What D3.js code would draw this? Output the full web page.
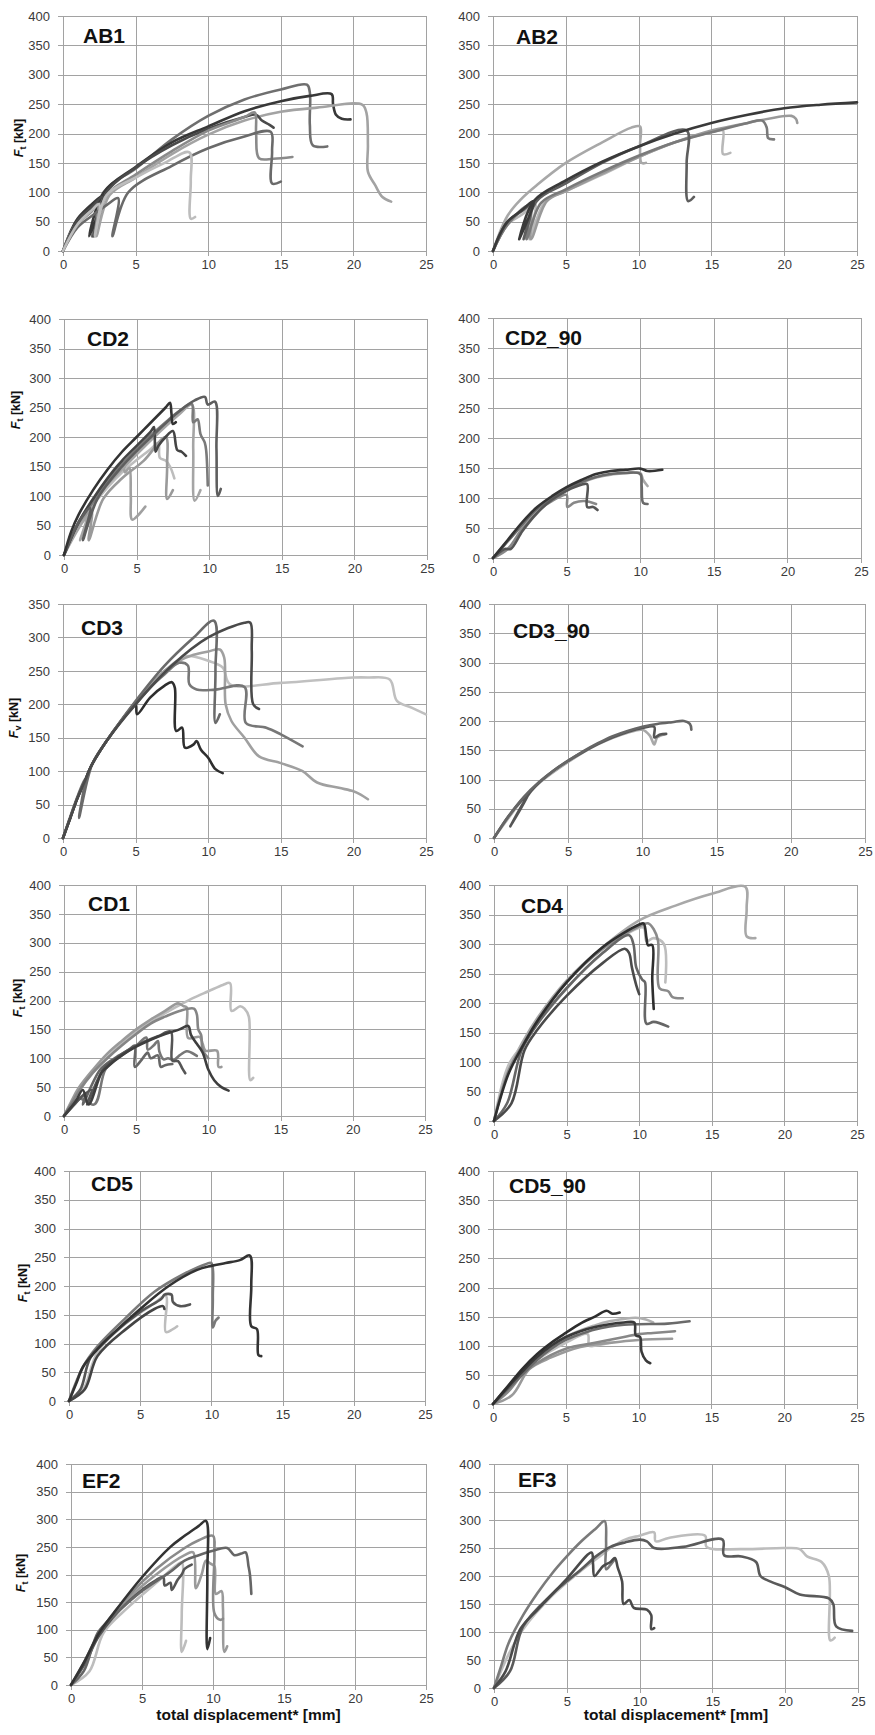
<!DOCTYPE html>
<html>
<head>
<meta charset="utf-8">
<script src="https://cdn.jsdelivr.net/npm/d3@7"></script>
<style>
body { margin: 0; background: #fff; }
svg text { font-family: "Liberation Sans", Arial, sans-serif; }
</style>
</head>
<body>
<div id="chart"></div>
<script>
// Panel names and ticks
const panelNames = ["AB1", "AB2", "CD2", "CD2_90", "CD3", "CD3_90", "CD1", "CD4", "CD5", "CD5_90", "EF2", "EF3"];
const xTicks = [0, 5, 10, 15, 20, 25];
const yTicks = [0, 50, 100, 150, 200, 250, 300, 350, 400];
const yTicksCD3 = [0, 50, 100, 150, 200, 250, 300, 350];
const ySub = { AB1: "t", CD2: "t", CD3: "v", CD1: "t", CD5: "t", EF2: "t" };
const xLabel = "total displacement* [mm]";

// Load-displacement curves, [displacement mm, force kN]
const ab1 = [
  [[0,0],[0.5,30],[1,50],[2,75],[2.8,95],[2.0,25],[3.0,105],[5,140],[7.5,190],[10,230],[12.5,258],[15,275],[16.8,283],[17.0,270],[17.0,215],[17.2,180],[18.2,178]],
  [[0,0],[0.5,32],[1,55],[2,80],[2.8,95],[1.8,25],[2.8,100],[5,143],[7.5,185],[10,212],[12.5,238],[15,255],[17,264],[18.5,267],[18.6,250],[18.8,232],[19.2,225],[19.8,224]],
  [[0,0],[0.5,30],[1,50],[2,72],[2.5,80],[2.3,25],[3.2,95],[5,125],[7.5,165],[10,198],[12.5,222],[15,237],[17.5,244],[20.6,249],[20.9,235],[21,180],[21,135],[21.5,112],[22,92],[22.6,84]],
  [[0,0],[1,52],[2,75],[2.7,92],[2.1,25],[3,100],[5,142],[7.5,180],[10,208],[12.5,228],[13.3,232],[13.7,222],[14.2,215],[14.5,210]],
  [[0,0],[1,45],[2,68],[2.4,80],[2.2,25],[3,95],[5,130],[7.5,170],[10,205],[12.5,228],[13.2,236],[13.3,200],[13.5,158],[14.5,157],[15.8,160]],
  [[0,0],[1,40],[2,60],[3,78],[3.8,90],[3.4,25],[4.5,100],[7.5,145],[10,175],[12.5,195],[14.3,203],[14.4,170],[14.4,115],[15,118]],
  [[0,0],[1,45],[2,70],[2.5,80],[2.2,25],[3,95],[5,125],[7,150],[8.7,168],[8.8,120],[8.8,55],[9.1,58]]
];
const ab2 = [
  [[0,0],[1,60],[2,90],[3,112],[5,150],[7.5,185],[9.5,210],[10.1,212],[10.1,180],[10.2,150],[10.5,150]],
  [[0,0],[1,45],[2,62],[2.9,80],[2.5,20],[3.6,85],[5,102],[7.5,130],[10,160],[12.5,185],[15.5,205],[15.8,205],[15.8,165],[16.3,167]],
  [[0,0],[1,45],[2.5,75],[2.6,20],[3.7,85],[5,102],[7.5,132],[10,160],[12.5,185],[15,205],[17.5,218],[20.5,230],[20.8,225],[20.9,218]],
  [[0,0],[1,45],[2.5,78],[2.3,20],[3.3,82],[5,105],[7.5,135],[10,162],[12.5,185],[15,202],[17.5,218],[18.5,222],[18.8,210],[18.9,192],[19.3,190]],
  [[0,0],[1,50],[2,68],[2.7,80],[2.1,20],[3,85],[5,115],[7.5,150],[10,178],[13.3,205],[13.3,150],[13.4,85],[13.8,92]],
  [[0,0],[0.5,30],[1,50],[2,70],[2.8,85],[1.8,20],[2.8,85],[5,120],[7.5,152],[10,178],[12.5,200],[15,218],[17.5,232],[20,243],[22.5,249],[25,253]]
];
const cd2 = [
  [[0,0],[1,50],[2,85],[4,140],[6,180],[6.5,190],[6.6,165],[7,160],[7.3,150],[7.6,130]],
  [[0,0],[1,55],[2,95],[3,130],[4,158],[4.2,140],[4.5,148],[4.6,100],[4.7,60],[5.6,82]],
  [[0,0],[1,50],[1.9,75],[1.7,25],[2.7,95],[4,130],[5.5,160],[7,200],[7.1,150],[7.1,95],[7.5,110]],
  [[0,0],[1,45],[1.6,65],[1.1,25],[2.2,95],[4,145],[6,195],[8,240],[8.8,255],[8.9,180],[9,92],[9.4,110]],
  [[0,0],[1,55],[2,90],[3,125],[5,180],[7,225],[8,245],[8.8,256],[8.9,225],[9.2,230],[9.4,205],[9.7,190],[9.8,175],[9.9,118]],
  [[0,0],[1,55],[2,95],[3,130],[4,160],[5,185],[6,210],[6.2,217],[6.3,175],[6.5,185],[7,200],[7.5,210],[7.8,178],[8.1,175],[8.4,168]],
  [[0,0],[1,55],[1.8,80],[1.3,25],[2.3,95],[4,150],[6,200],[8,245],[9,262],[9.7,268],[9.9,255],[10.4,260],[10.5,180],[10.6,100],[10.8,112]],
  [[0,0],[0.5,40],[1,68],[2,110],[3,145],[4,175],[5,200],[6,225],[7,250],[7.3,258],[7.4,240],[7.5,222],[7.7,225]]
];
const cd2_90 = [
  [[0,0],[1,15],[2,50],[3,78],[4,95],[5,105],[5.05,85],[5.5,92],[6.2,95],[7,90]],
  [[0,0],[1,28],[2,55],[3,80],[4,98],[5,113],[6,125],[7,134],[8,139],[9,141],[10,142],[10.2,130],[10.5,120]],
  [[0,0],[1,28],[2,56],[3,82],[5,115],[7,135],[9,142],[10,140],[10.1,120],[10.2,92],[10.5,90]],
  [[0,0],[0.8,15],[1.2,15],[2,45],[3,75],[4,97],[5,112],[6,122],[6.4,123],[6.4,85],[6.8,85],[7.1,80]],
  [[0,0],[1,30],[2,60],[3,85],[4,103],[5,118],[6,130],[7,140],[8,145],[9,147],[10,149],[10.5,145],[11.5,147]]
];
const cd3 = [
  [[0,0],[0.5,30],[1,60],[1.5,85],[2,110],[3,145],[4,175],[5,202],[6,228],[7,250],[8.5,272],[10,265],[11,255],[11.5,230],[15,232],[20,240],[21,240],[22.5,237],[23,205],[24,195],[25,185]],
  [[0,0],[0.5,30],[1,60],[1.5,85],[2,110],[3,145],[4,175],[5,203],[6,228],[7,250],[8,265],[9,274],[10,279],[10.8,282],[11.1,270],[11.2,200],[11.6,175],[12.5,150],[13.5,122],[15,112],[16.5,100],[17.5,83],[19,75],[20,70],[20.5,65],[21,58]],
  [[0,0],[0.5,30],[1,60],[1.5,85],[2,110],[3,145],[4,175],[5,200],[6,225],[7,245],[8,262],[8.6,258],[8.7,230],[9.2,222],[10.5,222],[12.5,226],[12.6,172],[14,165],[15,155],[16.5,137]],
  [[0,0],[0.5,30],[1,60],[1.5,85],[2,110],[3,145],[4,175],[5,200],[5.1,185],[6,210],[7,228],[7.5,233],[7.7,225],[7.8,160],[8.2,165],[8.4,135],[9,140],[9.2,145],[9.5,132],[10,120],[10.5,103],[11,97]],
  [[0,0],[0.5,32],[1,62],[1.5,88],[1.1,30],[2,110],[3,145],[5,205],[7,258],[9,300],[10.4,325],[10.5,250],[10.5,172],[10.8,185]],
  [[0,0],[0.5,30],[1,60],[1.5,85],[2,110],[3,145],[5,200],[7.5,258],[10,300],[12.5,322],[12.9,322],[13,280],[13.1,200],[13.5,193]]
];
const cd3_90 = [
  [[0,0],[1,35],[2,68],[3,93],[5,130],[7,160],[9,180],[10,185],[10.5,175],[10.8,160],[11,172],[11.5,177]],
  [[0,0],[1,38],[2,68],[2.4,78],[1.1,20],[2.5,80],[4,115],[6,147],[8,172],[10,188],[10.8,190],[10.8,172],[11.2,177],[11.6,178]],
  [[0,0],[1,38],[2,70],[3,95],[4,115],[5,132],[6,148],[7,162],[8,174],[9,183],[10,190],[11,195],[12,198],[12.8,200],[13.2,195],[13.3,185]]
];
const cd1 = [
  [[0,0],[0.5,22],[1,42],[2,75],[3,102],[4,125],[5,145],[6,162],[7,178],[8,192],[9,205],[10,216],[11,227],[11.5,230],[11.6,182],[12.2,190],[12.5,186],[12.8,172],[12.9,62],[13.1,66]],
  [[0,0],[0.5,25],[1,48],[2,80],[3,108],[4,130],[5,150],[6,167],[7,182],[7.9,195],[8.3,190],[8.5,188],[8.6,135],[9.4,137],[9.6,125],[9.8,113],[10.6,113],[10.7,85],[10.9,85]],
  [[0,0],[0.6,25],[1,42],[2,75],[3,100],[4,122],[5,142],[6,160],[7,172],[8,182],[9,186],[9.2,176],[9.3,150],[9.5,140],[9.6,115],[10,100]],
  [[0,0],[1,30],[2.1,20],[2.9,82],[4,105],[5,122],[5.7,136],[5.8,115],[6.2,122],[6.5,130],[6.6,112],[6.9,98],[7.2,100],[7.6,97],[8,105],[8.5,112],[8.8,110],[9.2,104]],
  [[0,0],[0.8,22],[1.5,40],[1.3,20],[2.5,80],[3.5,100],[4.5,115],[4.9,122],[4.9,85],[5.3,95],[5.6,105],[5.8,110],[6.0,100],[6.5,105],[6.7,85],[7.0,88],[7.5,90]],
  [[0,0],[1,28],[1.9,45],[1.6,20],[2.7,80],[3.5,98],[4.5,115],[5.5,128],[6.5,138],[7.4,146],[7.5,96],[7.9,95],[8.2,82],[8.4,74]],
  [[0,0],[0.8,25],[1.3,45],[1.7,20],[2.6,75],[3,85],[4,105],[5,120],[6,132],[7,142],[8,150],[8.6,156],[8.8,140],[9.2,125],[9.6,110],[10,80],[10.4,62],[10.9,50],[11.4,44]]
];
const cd4 = [
  [[0,0],[1,85],[2,135],[3,175],[5,238],[7.5,295],[10,340],[12.5,365],[15,385],[17.3,397],[17.4,360],[17.4,313],[18,310]],
  [[0,0],[1,95],[2,130],[3,165],[5,225],[7.5,285],[9,315],[10.3,328],[10.5,305],[11,310],[11.7,300],[11.8,235]],
  [[0,0],[1,85],[2,130],[3,170],[5,235],[7.5,292],[10,330],[10.6,335],[11,325],[11.3,305],[11.4,225],[12,220],[12.3,210],[13,208]],
  [[0,0],[0.9,30],[1.9,120],[3,165],[5,225],[7.5,285],[9.3,315],[9.6,300],[9.8,260],[10.2,240],[10.4,235],[10.5,165],[11,168],[12,160]],
  [[0,0],[1.2,30],[2.1,120],[3,155],[5,212],[7.5,268],[9,292],[9.3,285],[9.5,260],[9.8,230],[10,215]],
  [[0,0],[1,80],[2,128],[3,170],[5,235],[7.5,295],[10,333],[10.3,335],[10.5,310],[10.6,298],[10.9,298],[10.9,240],[11,190]]
];
const cd5 = [
  [[0,0],[1,20],[2,85],[4,135],[6,170],[6.8,183],[6.8,120],[7.3,125],[7.6,130]],
  [[0,0],[1,60],[2,95],[4,145],[6,190],[8,220],[9.6,238],[10,240],[10.1,180],[10.1,128],[10.3,140],[10.5,145]],
  [[0,0],[0.8,20],[1.5,75],[3,115],[5,155],[6.5,178],[6.7,185],[7.2,185],[7.3,172],[7.8,165],[8.5,168]],
  [[0,0],[1.1,20],[2,78],[4,125],[6,160],[6.6,165],[6.7,160]],
  [[0,0],[0.5,30],[1,60],[2,90],[3,115],[5,160],[7,200],[9,228],[10,235],[11,240],[12,245],[12.7,253],[12.8,200],[12.8,130],[13.2,125],[13.3,80],[13.5,78]]
];
const cd5_90 = [
  [[0,0],[1,25],[2,50],[3,75],[5,105],[6.5,120],[6.6,100],[7,100],[8,105]],
  [[0,0],[1.3,15],[2.5,60],[4,80],[6,98],[8,105],[10,110],[12.3,112]],
  [[0,0],[1,30],[2,55],[3,80],[5,115],[7,135],[8,142],[9,146],[9.8,148],[10.5,145],[11,140]],
  [[0,0],[1,20],[2,50],[3,70],[5,95],[7,105],[9,115],[10,120],[11,122],[12.5,125]],
  [[0,0],[1,25],[2,50],[3,75],[4,95],[5,110],[6,120],[7,128],[8,133],[9,136],[10,137],[12,138],[13.5,142]],
  [[0,0],[1,28],[2,55],[3,80],[4,100],[5,115],[6,125],[7,132],[8,137],[9,140],[9.7,140],[9.8,118],[10.1,115],[10.2,90],[10.5,75],[10.8,70]],
  [[0,0],[1,30],[2,60],[3,85],[4,105],[5,122],[6,138],[7,150],[7.8,160],[8.2,155],[8.7,157]]
];
const ef2 = [
  [[0,0],[1.3,25],[2.3,95],[4,140],[6,185],[7.5,218],[7.8,222],[7.8,130],[7.8,60],[8.1,80]],
  [[0,0],[1,40],[2,95],[4,155],[6,200],[8,235],[8.6,240],[8.8,175],[9.2,200],[9.5,225],[9.8,220],[10.1,215],[10.2,165],[10.6,170],[10.7,140],[10.8,60],[11,70]],
  [[0,0],[1,45],[2,95],[4,160],[6,210],[8,248],[9,262],[10,270],[10.1,240],[10.1,130],[10.5,118],[10.7,120]],
  [[0,0],[1,40],[2,90],[4,150],[6,190],[6.5,195],[6.6,180],[7,185],[7.1,172],[7.5,190],[7.8,200],[8,210],[8.5,218]],
  [[0,0],[0.9,25],[1.9,95],[3,125],[5,170],[7,205],[8,225],[9,235],[10,243],[11,248],[11.5,235],[12,238],[12.3,240],[12.5,215],[12.6,200],[12.7,165]],
  [[0,0],[1,45],[2,95],[3,130],[5,195],[7,250],[8,270],[9,288],[9.5,297],[9.6,200],[9.6,65],[9.8,85]]
];
const ef3 = [
  [[0,0],[1,60],[2,105],[4,165],[6,210],[7.5,240],[8,250],[9,265],[10,272],[11,278],[11.1,262],[12,268],[14.5,272],[14.6,252],[17,248],[20,250],[21,248],[21.5,235],[22.5,225],[23,200],[23.1,85],[23.4,90]],
  [[0,0],[0.5,40],[1,80],[2,130],[3,170],[4,205],[5,235],[6,262],[7,285],[7.6,298],[7.7,260],[7.7,212],[8,220],[8.3,230]],
  [[0,0],[1.1,30],[2,110],[4,168],[6,212],[7,235],[8,252],[9,260],[10,265],[10.5,262],[11,250],[13,252],[15.7,265],[15.8,237],[17,235],[18,225],[18.3,200],[19,190],[20,180],[21,167],[23,160],[23.3,150],[23.5,110],[24.6,102]],
  [[0,0],[0.8,30],[1.8,105],[3,140],[5,195],[6.7,242],[6.8,222],[6.9,200],[7.5,218],[8,225],[8.3,232],[8.5,215],[8.8,190],[8.9,150],[9.3,157],[9.6,143],[10.5,140],[10.8,130],[10.8,105],[11,107]]
];
const curveData = {
  AB1: ab1, AB2: ab2, CD2: cd2, CD2_90: cd2_90, CD3: cd3, CD3_90: cd3_90,
  CD1: cd1, CD4: cd4, CD5: cd5, CD5_90: cd5_90, EF2: ef2, EF3: ef3
};

// Line shades per panel (same order as curves)
const shades = {
  AB1: ["#6f6f6f", "#383838", "#a3a3a3", "#4a4a4a", "#8a8a8a", "#6a6a6a", "#bdbdbd"],
  AB2: ["#a8a8a8", "#b8b8b8", "#9a9a9a", "#7a7a7a", "#5e5e5e", "#3a3a3a"],
  CD2: ["#bdbdbd", "#a0a0a0", "#9a9a9a", "#a5a5a5", "#7a7a7a", "#444", "#5e5e5e", "#333"],
  CD2_90: ["#888", "#a8a8a8", "#6a6a6a", "#555", "#333"],
  CD3: ["#c0c0c0", "#a0a0a0", "#777", "#2e2e2e", "#6a6a6a", "#4a4a4a"],
  CD3_90: ["#a8a8a8", "#555", "#666"],
  CD1: ["#bdbdbd", "#9a9a9a", "#858585", "#777", "#666", "#555", "#3e3e3e"],
  CD4: ["#a8a8a8", "#bdbdbd", "#8a8a8a", "#666", "#4a4a4a", "#2e2e2e"],
  CD5: ["#bdbdbd", "#7a7a7a", "#555", "#444", "#333"],
  CD5_90: ["#bdbdbd", "#9a9a9a", "#b0b0b0", "#888", "#6a6a6a", "#3a3a3a", "#2e2e2e"],
  EF2: ["#bdbdbd", "#9a9a9a", "#8a8a8a", "#555", "#666", "#333"],
  EF3: ["#bdbdbd", "#7a7a7a", "#5a5a5a", "#4a4a4a"]
};

// Plot-area layout (pixels) and title offsets
const layout = {
  AB1:    { l: 63,  r: 426, t: 16,   b: 251,  tx: 20, ty: 27 },
  AB2:    { l: 493, r: 857, t: 16,   b: 251,  tx: 23, ty: 28 },
  CD2:    { l: 64,  r: 427, t: 319,  b: 555,  tx: 23, ty: 27 },
  CD2_90: { l: 493, r: 861, t: 318,  b: 558,  tx: 12, ty: 27 },
  CD3:    { l: 63,  r: 426, t: 604,  b: 838,  tx: 18, ty: 31 },
  CD3_90: { l: 494, r: 865, t: 604,  b: 838,  tx: 19, ty: 34 },
  CD1:    { l: 64,  r: 425, t: 885,  b: 1116, tx: 24, ty: 26 },
  CD4:    { l: 494, r: 857, t: 885,  b: 1121, tx: 27, ty: 28 },
  CD5:    { l: 69,  r: 425, t: 1171, b: 1401, tx: 22, ty: 20 },
  CD5_90: { l: 493, r: 857, t: 1171, b: 1404, tx: 16, ty: 22 },
  EF2:    { l: 71,  r: 426, t: 1464, b: 1685, tx: 11, ty: 24 },
  EF3:    { l: 494, r: 858, t: 1464, b: 1688, tx: 24, ty: 23 }
};
const yLabelPos = {
  AB1: [23, 138], CD2: [20, 410], CD3: [18, 718], CD1: [22, 998], CD5: [27, 1283], EF2: [25, 1573]
};

const svg = d3.select("#chart")
    .append("svg")
    .attr("width", 875)
    .attr("height", 1735);

svg.append("rect").attr("width", 875).attr("height", 1735).attr("fill", "#fff");

panelNames.forEach(name => {
    const L = layout[name];
    const ticksY = name === "CD3" ? yTicksCD3 : yTicks;
    const yMax = ticksY[ticksY.length - 1];
    const w = L.r - L.l, h = L.b - L.t;

    const x = d3.scaleLinear().domain([0, 25]).range([L.l, L.r]);
    const y = d3.scaleLinear().domain([0, yMax]).range([L.b, L.t]);

    const g = svg.append("g");

    // Grid lines (extend a little outside as tick marks)
    g.append("g")
        .attr("transform", `translate(${L.l - 5},0)`)
        .call(d3.axisLeft(y).tickValues(ticksY).tickSize(-(w + 5)).tickFormat(""))
        .call(a => a.select(".domain").remove())
        .selectAll("line").attr("stroke", "#a2a2a2").attr("stroke-width", 1)
        .attr("shape-rendering", "crispEdges");

    g.append("g")
        .attr("transform", `translate(0,${L.b + 5})`)
        .call(d3.axisBottom(x).tickValues(xTicks).tickSize(-(h + 5)).tickFormat(""))
        .call(a => a.select(".domain").remove())
        .selectAll("line").attr("stroke", "#a2a2a2").attr("stroke-width", 1)
        .attr("shape-rendering", "crispEdges");

    // Tick labels
    g.append("g")
        .attr("transform", `translate(${L.l},0)`)
        .call(d3.axisLeft(y).tickValues(ticksY).tickSize(0).tickPadding(13))
        .call(a => a.select(".domain").remove())
        .selectAll("text").attr("font-size", 13).attr("fill", "#3a3a3a")
        .style("font-family", "'Liberation Sans', Arial, sans-serif");

    g.append("g")
        .attr("transform", `translate(0,${L.b})`)
        .call(d3.axisBottom(x).tickValues(xTicks).tickSize(0).tickPadding(9))
        .call(a => a.select(".domain").remove())
        .selectAll("text").attr("font-size", 13).attr("fill", "#3a3a3a")
        .style("font-family", "'Liberation Sans', Arial, sans-serif");

    // Curves (centripetal Catmull-Rom keeps drops sharp, rounds the rising parts)
    const line = d3.line()
        .x(d => x(d[0]))
        .y(d => y(d[1]))
        .curve(d3.curveCatmullRom.alpha(0.5));
    g.append("g")
        .selectAll("path")
        .data(curveData[name])
        .enter()
        .append("path")
        .attr("d", line)
        .attr("fill", "none")
        .attr("stroke", (d, i) => shades[name][i])
        .attr("stroke-width", 2.6)
        .attr("stroke-linejoin", "round")
        .attr("stroke-linecap", "round");

    // Panel title
    g.append("text")
        .attr("x", L.l + L.tx)
        .attr("y", L.t + L.ty)
        .attr("font-size", 21)
        .attr("font-weight", "bold")
        .attr("fill", "#111")
        .text(name);

    // Y-axis label on the left column
    if (ySub[name]) {
        const p = yLabelPos[name];
        const t = g.append("text")
            .attr("transform", `translate(${p[0]},${p[1]}) rotate(-90)`)
            .attr("text-anchor", "middle")
            .attr("font-size", 12.5)
            .attr("font-weight", "bold")
            .attr("fill", "#111");
        t.append("tspan").attr("font-style", "italic").text("F");
        t.append("tspan").attr("font-size", 9).attr("dy", 3).text(ySub[name]);
        t.append("tspan").attr("dy", -3).text(" [kN]");
    }

    // X-axis label on the bottom row
    if (name === "EF2" || name === "EF3") {
        g.append("text")
            .attr("x", (L.l + L.r) / 2)
            .attr("y", 1720)
            .attr("text-anchor", "middle")
            .attr("font-size", 15.5)
            .attr("font-weight", "bold")
            .attr("fill", "#111")
            .text(xLabel);
    }
});
</script>
</body>
</html>
